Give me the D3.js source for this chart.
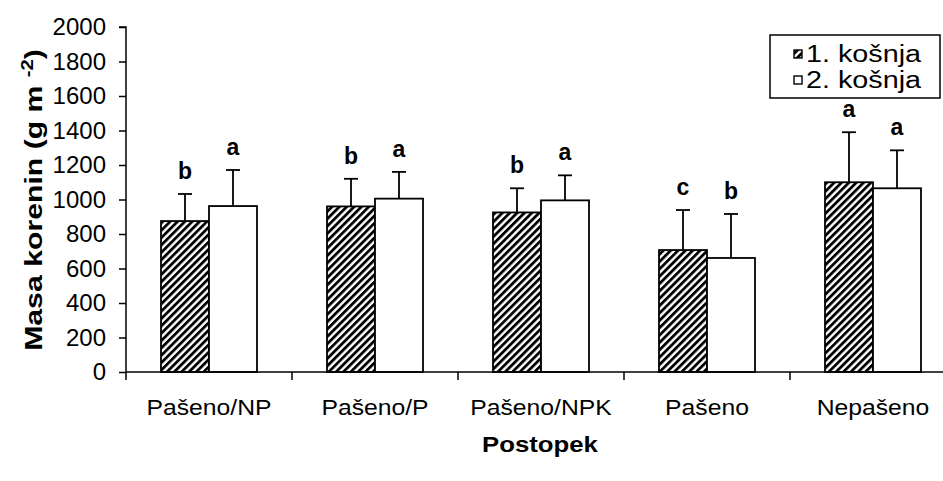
<!DOCTYPE html>
<html>
<head>
<meta charset="utf-8">
<script src="https://cdn.jsdelivr.net/npm/d3@7"></script>
<style>
  body { margin: 0; background: #fff; }
  svg { display: block; font-family: "Liberation Sans", Arial, sans-serif; }
</style>
</head>
<body>
<svg id="chart" width="943" height="481"></svg>
<script>
const categories = ['Pašeno/NP', 'Pašeno/P', 'Pašeno/NPK', 'Pašeno', 'Nepašeno']
const series = ['1. košnja', '2. košnja']
const means1 = [875, 960, 925, 707, 1100]
const errs1 = [157, 160, 140, 232, 290]
const means2 = [962, 1005, 995, 661, 1065]
const errs2 = [209, 155, 145, 255, 220]
const letters1 = ['b', 'b', 'b', 'c', 'a']
const letters2 = ['a', 'a', 'a', 'b', 'a']
const yTicks = [0, 200, 400, 600, 800, 1000, 1200, 1400, 1600, 1800, 2000]

const svg = d3.select('#chart')
const plotLeft = 126, catW = 166, plotTop = 27, plotBottom = 372
const plotRight = plotLeft + catW * categories.length

const x = d3.scaleBand().domain(categories).range([plotLeft, plotRight])
const xs = d3.scaleBand().domain(series).range([0, 96])
const y = d3.scaleLinear().domain([0, 2000]).range([plotBottom, plotTop])

// the original text is rendered a little wider than Liberation Sans
const stretch = (sel, sx, sy) => sel.attr('transform', function () {
    const t = d3.select(this)
    return `translate(${t.attr('x')},${t.attr('y')}) scale(${sx},${sy}) translate(${-t.attr('x')},${-t.attr('y')})`
})

// hatch pattern
const defs = svg.append('defs')
const pat = defs.append('pattern')
    .attr('id', 'hatch')
    .attr('patternUnits', 'userSpaceOnUse')
    .attr('width', 5.2).attr('height', 5.2)
    .attr('patternTransform', 'rotate(45)')
pat.append('rect').attr('width', 5.2).attr('height', 5.2).attr('fill', '#fff')
pat.append('rect').attr('width', 2.8).attr('height', 5.2).attr('fill', '#000')

const rows = categories.map((c, i) => [
    {cat: c, s: series[0], v: means1[i], e: errs1[i], l: letters1[i], fill: 'url(#hatch)'},
    {cat: c, s: series[1], v: means2[i], e: errs2[i], l: letters2[i], fill: '#fff'}
]).flat()

const off = (x.bandwidth() - 96) / 2
const cx = (d) => x(d.cat) + off + xs(d.s) + xs.bandwidth() / 2

// error bars
const eb = svg.append('g').attr('stroke', '#000').attr('stroke-width', 1.8)
rows.forEach((d) => {
    eb.append('line').attr('x1', cx(d)).attr('x2', cx(d)).attr('y1', y(d.v)).attr('y2', y(d.v + d.e))
    eb.append('line').attr('x1', cx(d) - 7).attr('x2', cx(d) + 7).attr('y1', y(d.v + d.e)).attr('y2', y(d.v + d.e))
})

svg.append('g').selectAll('rect')
    .data(rows).enter()
    .append('rect')
        .attr('x', (d) => x(d.cat) + off + xs(d.s))
        .attr('y', (d) => y(d.v))
        .attr('width', xs.bandwidth())
        .attr('height', (d) => y(0) - y(d.v))
        .attr('fill', (d) => d.fill)
        .attr('stroke', '#000')
        .attr('stroke-width', 1.8)

svg.append('g').selectAll('text')
    .data(rows).enter()
    .append('text')
        .attr('x', cx)
        .attr('y', (d) => y(d.v + d.e) - 15)
        .attr('text-anchor', 'middle')
        .style('font-size', '23px')
        .style('font-weight', 'bold')
        .text((d) => d.l)

// y axis
const yAxis = svg.append('g')
    .attr('transform', `translate(${plotLeft},0)`)
    .call(d3.axisLeft(y).tickValues(yTicks).tickSize(7).tickPadding(13).tickFormat(d3.format('d')))
yAxis.select('.domain').attr('stroke-width', 1.5).attr('d', `M-7,${plotTop}H0V${plotBottom}`)
yAxis.selectAll('.tick line').attr('stroke-width', 1.5)
yAxis.selectAll('text').style('font-size', '24px').attr('fill', '#000')

// x axis
const xg = svg.append('g').attr('stroke', '#000').attr('stroke-width', 1.5)
xg.append('line').attr('x1', plotLeft).attr('x2', plotRight).attr('y1', plotBottom).attr('y2', plotBottom)
categories.map((c) => x(c)).concat([plotRight]).forEach((b) => {
    xg.append('line').attr('x1', b).attr('x2', b).attr('y1', plotBottom).attr('y2', plotBottom + 8)
})
svg.append('g').selectAll('text')
    .data(categories).enter()
    .append('text')
        .attr('x', (d) => x(d) + x.bandwidth() / 2)
        .attr('y', 415)
        .attr('text-anchor', 'middle')
        .style('font-size', '21.5px')
        .text((d) => d)
        .call(stretch, 1.15, 1)

// axis titles
svg.append('text')
    .attr('x', 540).attr('y', 452)
    .attr('text-anchor', 'middle')
    .style('font-size', '23px').style('font-weight', 'bold')
    .text('Postopek')
    .call(stretch, 1.12, 1)

const yt = svg.append('text')
    .attr('transform', 'translate(42,200) scale(1,1.26) rotate(-90)')
    .attr('text-anchor', 'middle')
    .style('font-size', '24px').style('font-weight', 'bold')
yt.append('tspan').text('Masa korenin (g m ')
yt.append('tspan').attr('dy', -9).style('font-size', '16px').text('-2')
yt.append('tspan').attr('dy', 9).text(')')

// legend
const lg = svg.append('g')
lg.append('rect').attr('x', 770).attr('y', 35).attr('width', 170).attr('height', 63)
    .attr('fill', '#fff').attr('stroke', '#000').attr('stroke-width', 1.5)
series.forEach((s, i) => {
    const base = 62 + i * 26
    lg.append('rect').attr('x', 794).attr('y', base - 12).attr('width', 8).attr('height', 8)
        .attr('fill', i === 0 ? 'url(#hatch)' : '#fff').attr('stroke', '#000').attr('stroke-width', 1.4)
    lg.append('text').attr('x', 806).attr('y', base)
        .style('font-size', '23px').text(s)
        .call(stretch, 1.25, 1)
})
</script>
</body>
</html>
